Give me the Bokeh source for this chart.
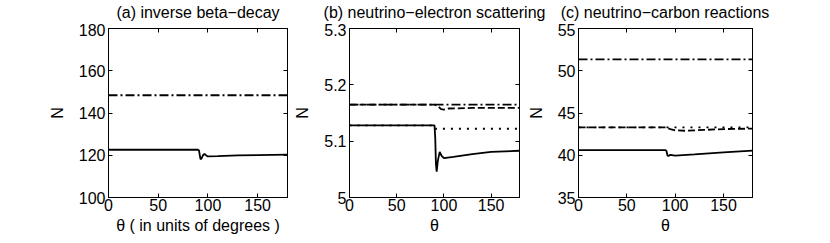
from bokeh.plotting import figure
from bokeh.layouts import row, column
from bokeh.models import LinearAxis, FixedTicker, Range1d, ColumnDataSource
from bokeh.core.properties import value
from bokeh.embed import file_html
from bokeh.resources import INLINE

FONT = "Liberation Sans"
FS = "16px"

# ---- data ----
titles = ["(a) inverse beta\u2212decay", "(b) neutrino\u2212electron scattering",
          "(c) neutrino\u2212carbon reactions"]
x_labels = ["\u03b8 ( in units of degrees )", "\u03b8", "\u03b8"]
x_ticks = [0, 50, 100, 150]

# (a) inverse beta-decay
a_solid_theta = [0, 90, 91, 92, 92.5, 93.5, 95, 96.5, 98, 99.5, 110, 130, 150, 180]
a_solid_N = [122.6, 122.6, 122.3, 119.5, 118.2, 118.4, 120.0, 120.7, 120.0, 119.5, 119.6, 119.9, 120.1, 120.3]
a_dashdot_theta = [0, 180]
a_dashdot_N = [148.4, 148.4]
a_yticks = [100, 120, 140, 160, 180]

# (b) neutrino-electron scattering
b_solid_theta = [0, 90, 90.8, 91.5, 92.3, 93.5, 95.5, 97.5, 100, 110, 130, 150, 180]
b_solid_N = [5.128, 5.128, 5.105, 5.060, 5.046, 5.065, 5.081, 5.074, 5.070, 5.072, 5.077, 5.081, 5.083]
b_dotted_theta = [0, 90, 91, 180]
b_dotted_N = [5.128, 5.128, 5.122, 5.122]
b_dashed_theta = [0, 90, 93, 97, 100, 105, 130, 180]
b_dashed_N = [5.165, 5.165, 5.163, 5.157, 5.156, 5.158, 5.159, 5.159]
b_dashdot_theta = [0, 180]
b_dashdot_N = [5.165, 5.165]
b_yticks = [5.0, 5.1, 5.2, 5.3]

# (c) neutrino-carbon reactions
c_solid_theta = [0, 90, 91, 92, 93, 95, 100, 120, 150, 180]
c_solid_N = [40.6, 40.6, 40.5, 40.0, 39.9, 40.05, 39.95, 40.1, 40.35, 40.55]
c_dotted_theta = [0, 180]
c_dotted_N = [43.3, 43.3]
c_dashed_theta = [0, 90, 95, 100, 110, 130, 150, 180]
c_dashed_N = [43.3, 43.3, 43.1, 42.95, 42.9, 43.0, 43.1, 43.15]
c_dashdot_theta = [0, 180]
c_dashdot_N = [51.35, 51.35]
c_yticks = [35, 40, 45, 50, 55]

# ---- layout geometry ----
FRAME_H = 169
TOP_B = 5
BOT_B = 40
STRIP_H = 23
TITLE_MID = 12  # px from top of the strip to the middle of the titles
# (left border, frame width, right border) for each panel
geom = [(108, 179, 4), (58, 170, 5), (53, 175, 20)]
LW = 1.8


def make_panel(xlabel, yr, yticks, bl, fw, br):
    p = figure(output_backend="svg", toolbar_location=None,
               width=bl + fw + br, height=TOP_B + FRAME_H + BOT_B,
               min_border_left=bl, min_border_right=br,
               min_border_top=TOP_B, min_border_bottom=BOT_B,
               x_range=Range1d(0, 180), y_range=Range1d(*yr))
    p.title = None
    p.grid.visible = False
    p.outline_line_color = "black"
    p.outline_line_width = 1
    p.background_fill_color = "white"
    p.border_fill_color = "white"
    for ax in (p.xaxis[0], p.yaxis[0]):
        ax.major_tick_in = 4
        ax.major_tick_out = 0
        ax.minor_tick_line_color = None
        ax.axis_line_color = "black"
        ax.major_label_text_font = FONT
        ax.major_label_text_font_size = FS
        ax.major_label_text_color = "black"
        ax.axis_label_text_font = FONT
        ax.axis_label_text_font_size = FS
        ax.axis_label_text_font_style = "normal"
        ax.axis_label_text_color = "black"
    p.xaxis[0].ticker = FixedTicker(ticks=x_ticks)
    p.yaxis[0].ticker = FixedTicker(ticks=yticks)
    p.xaxis[0].major_label_standoff = 1
    p.xaxis[0].axis_label = xlabel
    p.xaxis[0].axis_label_standoff = 3
    p.yaxis[0].major_label_standoff = 3
    p.yaxis[0].axis_label = "N"
    p.yaxis[0].axis_label_standoff = 10
    top = LinearAxis(ticker=FixedTicker(ticks=x_ticks), major_tick_in=4, major_tick_out=0,
                     minor_tick_line_color=None, major_label_text_font_size="1px",
                     major_label_overrides={t: "" for t in x_ticks},
                     major_label_standoff=0)
    right = LinearAxis(ticker=FixedTicker(ticks=yticks), major_tick_in=4, major_tick_out=0,
                       minor_tick_line_color=None, major_label_text_font_size="1px",
                       major_label_overrides={t: "" for t in yticks},
                       major_label_standoff=0)
    p.add_layout(top, "above")
    p.add_layout(right, "right")
    return p


DD = "9 3 2 3"
DA = "7 3"
DO = "2 6"

pa = make_panel(x_labels[0], (100, 180), a_yticks, *geom[0])
pa.line(a_dashdot_theta, a_dashdot_N, line_color="black", line_width=LW, line_dash=DD)
pa.line(a_solid_theta, a_solid_N, line_color="black", line_width=LW)

pb = make_panel(x_labels[1], (5.0, 5.3), b_yticks, *geom[1])
pb.line(b_dashdot_theta, b_dashdot_N, line_color="black", line_width=LW, line_dash=DD)
pb.line(b_dashed_theta, b_dashed_N, line_color="black", line_width=LW, line_dash=DA)
pb.line(b_dotted_theta, b_dotted_N, line_color="black", line_width=LW, line_dash=DO)
pb.line(b_solid_theta, b_solid_N, line_color="black", line_width=LW)

pc = make_panel(x_labels[2], (35, 55), c_yticks, *geom[2])
pc.line(c_dashdot_theta, c_dashdot_N, line_color="black", line_width=LW, line_dash=DD)
pc.line(c_dashed_theta, c_dashed_N, line_color="black", line_width=LW, line_dash=DA)
pc.line(c_dotted_theta, c_dotted_N, line_color="black", line_width=LW, line_dash=DO)
pc.line(c_solid_theta, c_solid_N, line_color="black", line_width=LW)

# ---- title strip spanning all panels (titles may overhang panel edges) ----
total_w = sum(bl + fw + br for bl, fw, br in geom)
centers = []
offset = 0
for bl, fw, br in geom:
    centers.append(offset + bl + fw / 2)
    offset += bl + fw + br

strip = figure(output_backend="svg", toolbar_location=None,
               width=total_w, height=STRIP_H,
               min_border_left=0, min_border_right=0, min_border_top=0, min_border_bottom=0,
               x_range=Range1d(0, total_w), y_range=Range1d(0, STRIP_H),
               x_axis_type=None, y_axis_type=None)
strip.title = None
strip.grid.visible = False
strip.outline_line_color = None
src = ColumnDataSource(dict(x=centers, y=[STRIP_H - TITLE_MID] * 3, t=titles))
strip.text(x="x", y="y", text="t", source=src, text_align="center",
           text_baseline="middle", text_font=value(FONT), text_font_size=FS,
           text_color="black")

layout = column(strip, row(pa, pb, pc))
open("out.html", "w").write(file_html(layout, INLINE))
